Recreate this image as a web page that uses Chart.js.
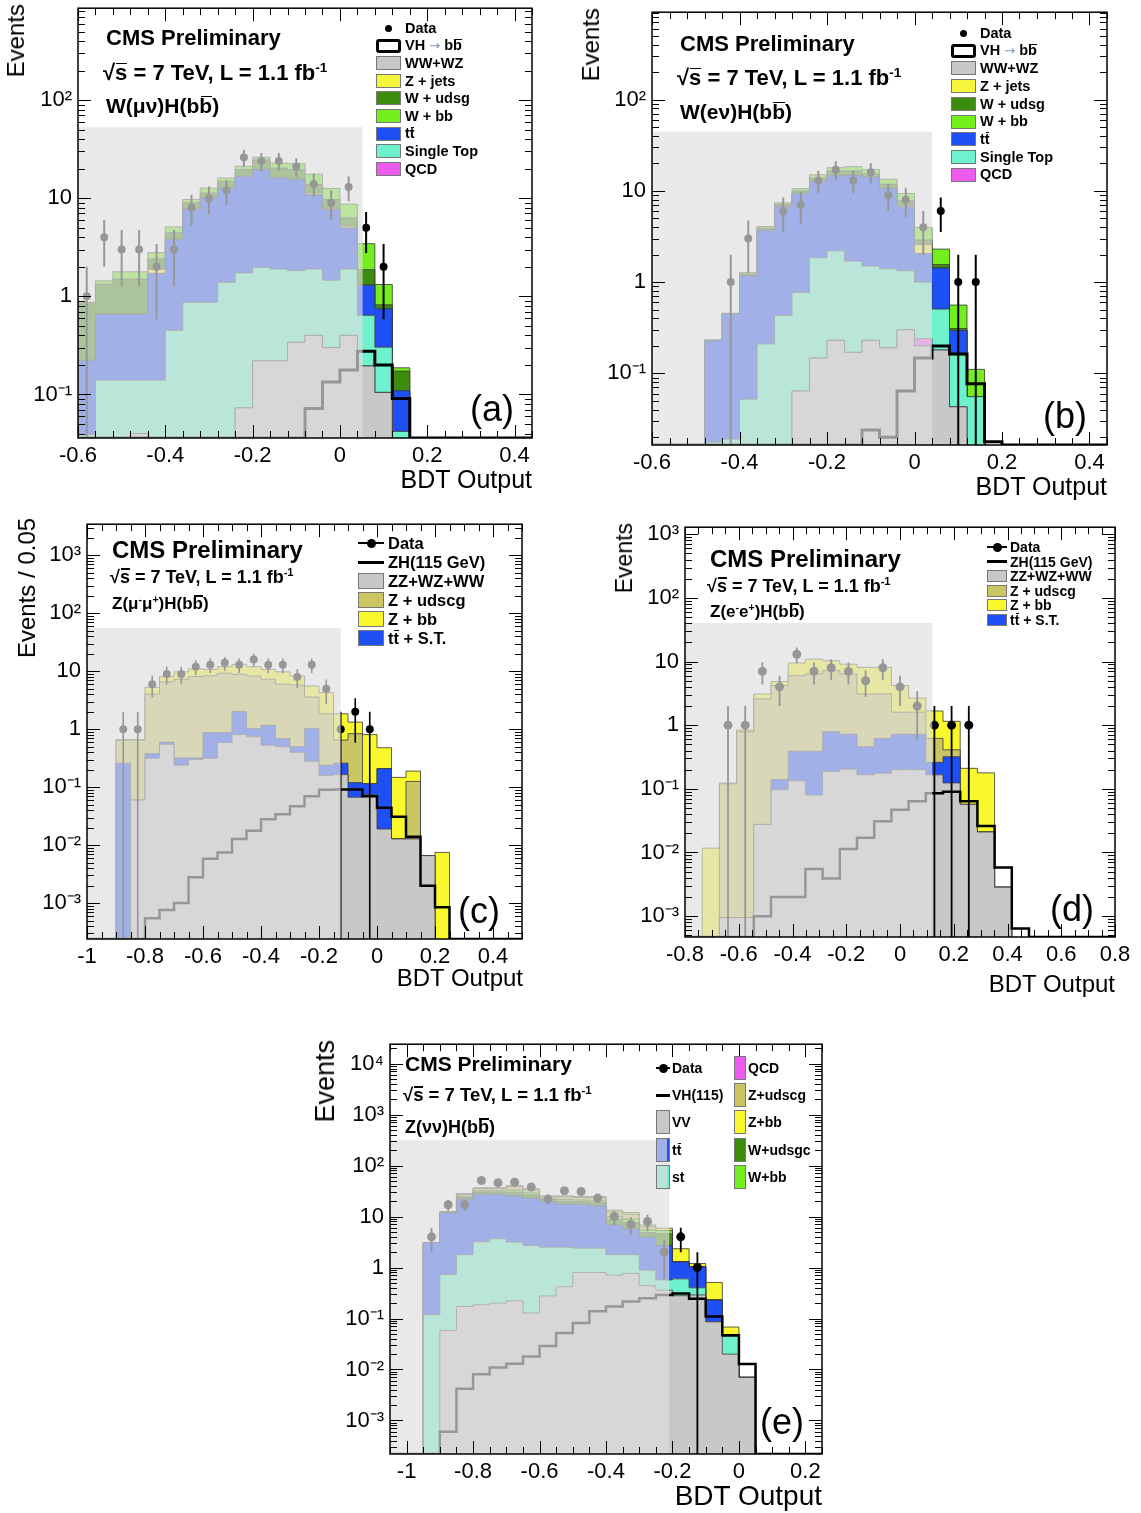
<!DOCTYPE html>
<html><head><meta charset="utf-8"><title>CMS VH(bb) BDT output</title>
<script src="https://cdn.jsdelivr.net/npm/chart.js@4.4.1/dist/chart.umd.min.js"></script>
<style>
html,body{margin:0;padding:0;background:#fff;}
body{position:relative;width:1141px;height:1513px;overflow:hidden;font-family:'Liberation Sans',Arial,Helvetica,sans-serif;color:#000;}
canvas{position:absolute;}
.t{position:absolute;white-space:nowrap;line-height:1;}
.b{font-weight:bold;}
.vt{position:absolute;white-space:nowrap;line-height:1;writing-mode:vertical-rl;transform:rotate(180deg);}
.ob{position:relative;display:inline-block;}
.ob::after{content:'';position:absolute;left:0.06em;right:0.02em;top:0.03em;height:0.075em;background:currentColor;}
sup{font-size:62%;vertical-align:0.6em;line-height:0;}
.sw{position:absolute;box-sizing:border-box;}
.ar{color:#7f97b8;font-weight:normal;font-family:'DejaVu Sans',sans-serif;font-size:0.9em;}
</style></head><body>
<canvas id="ca"></canvas><canvas id="cb"></canvas><canvas id="cc"></canvas><canvas id="cd"></canvas><canvas id="ce"></canvas>
<script>
// ================= DATA =================
// (a) W(mu nu)H(bb): bins of 0.04 starting at -0.6
const aBinLow = -0.6, aBinWidth = 0.04;
const aWWWZ      = [0, 0, 0, 0.04, 0, 0, 0, 0, 0, 0.073, 0.22, 0.22, 0.34, 0.40, 0.30, 0.40, 0.195, 0.105, 0];
const aQCD       = [0, 0, 0, 0, 0, 0, 0, 0, 0, 0, 0, 0, 0, 0, 0, 0, 0, 0, 0];
const aSingleTop = [0.039, 0.14, 0.14, 0.10, 0.14, 0.45, 0.87, 0.87, 1.39, 1.66, 1.75, 1.68, 1.49, 1.50, 1.16, 1.50, 0.445, 0.198, 0.042];
const aTTbar     = [0.184, 0.52, 0.52, 0.52, 1.58, 3.35, 6.83, 9.23, 11.2, 15.0, 17.5, 14.2, 13.7, 9.0, 6.24, 3.1, 0.66, 0.443, 0.067];
const aZjets     = [0, 0, 0, 0, 0.16, 0.05, 0.1, 0.1, 0.2, 0.2, 0.2, 0.2, 0.2, 0.4, 0.2, 0.2, 0, 0, 0];
const aWudsg     = [0.617, 0.67, 0.84, 0.84, 0.52, 0.6, 1.2, 1.1, 2.1, 2.6, 4.9, 4.0, 3.8, 2.5, 1.8, 1.1, 0.57, 0.074, 0.064];
const aWbb       = [0.03, 0.11, 0.28, 0.28, 0.39, 0.65, 0.7, 1.4, 1.2, 1.6, 1.6, 2.5, 3.0, 3.8, 2.9, 2.4, 1.57, 0.5, 0.014];
const aVH        = [0, 0, 0, 0, 0, 0, 0, 0, 0, 0, 0, 0, 0, 0.072, 0.134, 0.178, 0.276, 0.2, 0.091];
const aData      = [1, 4, 3, 3, 2, 3, 8, 10, 12, 26, 24, 24, 21, 14, 9, 13, 5, 2, null];
const aBlind     = [-0.6, 0.052, 53];   // x from, x to, height (events)

// (b) W(e nu)H(bb): bins of 0.04 starting at -0.6
const bBinLow = -0.6, bBinWidth = 0.04;
const bWWWZ      = [0, 0, 0, 0, 0, 0, 0, 0, 0.064, 0.147, 0.23, 0.17, 0.23, 0.19, 0.30, 0.20, 0.18, 0.043, 0, 0];
const bQCD       = [0, 0, 0, 0, 0, 0, 0, 0, 0, 0, 0, 0, 0, 0, 0, 0.04, 0, 0, 0, 0];
const bSingleTop = [0, 0, 0, 0.0176, 0.019, 0.052, 0.21, 0.43, 0.706, 1.70, 1.97, 1.53, 1.27, 1.21, 1.03, 0.76, 0.326, 0.117, 0.0556, 0];
const bTTbar     = [0, 0, 0, 0.212, 0.431, 1.118, 3.49, 6.27, 8.58, 10.75, 12.6, 13.1, 12.7, 9.2, 5.37, 1.06, 0.924, 0.135, 0, 0];
const bZjets     = [0, 0, 0, 0, 0, 0, 0, 0.05, 0.05, 0.1, 0.1, 0.1, 0.1, 0.1, 0.2, 0.52, 0, 0, 0, 0];
const bWudsg     = [0, 0, 0, 0, 0, 0.05, 0.2, 0.35, 0.6, 1.1, 1.6, 1.7, 1.1, 1.1, 0.9, 0.32, 0.13, 0.015, 0, 0];
const bWbb       = [0, 0, 0, 0.003, 0.005, 0.05, 0.17, 0.3, 0.6, 1.2, 1.4, 1.8, 1.7, 1.6, 1.55, 1.07, 0.74, 0.25, 0.055, 0];
const bVH        = [0, 0, 0, 0, 0, 0, 0, 0, 0, 0, 0, 0, 0.024, 0.02, 0.064, 0.147, 0.2, 0.163, 0.077, 0.0178];
const bData      = [null, null, null, null, 1, 3, null, 6, 7, 13, 17, 13, 16, 9, 8, 4, 6, 1, 1, null];
const bBlind     = [-0.6, 0.04, 44.5];

// (c) Z(mu mu)H(bb): bins of 0.05 starting at -0.9
const cBinLow = -0.9, cBinWidth = 0.05;
const cZZWZWW    = [0, 0.06, 0.316, 0.55, 0.24, 0.30, 0.316, 0.59, 0.81, 0.74, 0.53, 0.5, 0.4, 0.28, 0.16, 0.165, 0.067, 0.075, 0.019, 0.0128, 0.0128, 0.0066, 0];
const cTTST      = [0.26, 0, 0.064, 0.05, 0.08, 0.02, 0.564, 0.29, 1.22, 0.29, 0.64, 0.19, 0.1, 0.75, 0.08, 0.095, 0.053, 0.04, 0.191, 0, 0, 0, 0];
const cZudscg    = [0.39, 0.59, 3.68, 6.0, 6.98, 7.78, 7.52, 8.42, 6.87, 7.27, 6.13, 5.31, 5.3, 2.57, 1.61, 0.39, 0.72, 0, 0, 0, 0.113, 0, 0];
const cZbb       = [0.01, 0.01, 1.24, 1.5, 2.5, 3.0, 2.4, 2.7, 4.3, 3.7, 3.5, 3.8, 2.5, 2.0, 2.45, 1.2, 0.49, 0.695, 0.27, 0.135, 0.064, 0, 0.0075];
const cZH        = [0, 0, 0.00055, 0.00076, 0.001, 0.0028, 0.0058, 0.0075, 0.0128, 0.0177, 0.028, 0.034, 0.047, 0.07, 0.09, 0.091, 0.091, 0.07, 0.044, 0.031, 0.014, 0.002, 0.00085];
const cData      = [1, 1, 6, 9, 9, 12, 13, 14, 13, 16, 13, 13, 8, 13, 5, 1, 2, 1, null, null, null, null, null];
const cBlind     = [-1.0, -0.125, 55.7];

// (d) Z(ee)H(bb): bins of 0.064 starting at -0.8
const dBinLow = -0.8, dBinWidth = 0.064;
const dZZWZWW    = [0, 0, 0.00095, 0.00095, 0.0276, 0.097, 0.134, 0.08, 0.187, 0.204, 0.166, 0.176, 0.2, 0.2, 0.166, 0.124, 0.057, 0.021, 0.00285, 0];
const dTTST      = [0, 0, 0, 0, 0, 0.043, 0.256, 0.31, 0.603, 0.516, 0.294, 0.444, 0.52, 0.52, 0.094, 0.196, 0, 0, 0, 0];
const dZudscg    = [0, 0, 0.119, 0.789, 2.57, 4.06, 5.61, 6.01, 6.41, 5.68, 2.64, 2.48, 0.88, 0.88, 0.36, 0.09, 0, 0, 0, 0];
const dZbb       = [0, 0.0117, 0.003, 0.05, 0.5, 0.65, 3.5, 4.5, 3.1, 2.7, 5.0, 5.0, 2.6, 1.07, 1.05, 0.74, 0.153, 0.157, 0, 0];
const dZH        = [0, 0, 0, 0, 0.001, 0.002, 0.002, 0.0055, 0.0039, 0.0113, 0.0171, 0.031, 0.047, 0.064, 0.085, 0.09, 0.064, 0.026, 0.0058, 0.00064];
const dData      = [null, null, 1, 1, 7, 4, 13, 7, 8, 7, 5, 8, 4, 2, 1, 1, 1, null, null, null];
const dBlind     = [-0.8, 0.12, 40.4];

// (e) Z(nu nu)H(bb): bins of 0.05 starting at -0.95
const eBinLow = -0.95, eBinWidth = 0.05;
const eVV        = [0, 0.058, 0.172, 0.186, 0.2, 0.222, 0.128, 0.277, 0.42, 0.8, 0.8, 0.71, 0.765, 0.44, 0.36, 0.28, 0.29, 0.086, 0.02, 0.007];
const eST        = [0.119, 0.672, 1.618, 3.014, 3.46, 2.93, 2.57, 2.22, 2.08, 1.6, 1.6, 1.08, 1.025, 0.45, 0.21, 0.32, 0.11, 0, 0.025, 0];
const eTT        = [2.94, 11.27, 20.11, 24.1, 23.64, 22.25, 20.2, 17.2, 15.0, 15.1, 13.8, 5.01, 3.91, 3.05, 2.13, 0.69, 0.63, 0.144, 0, 0];
const eQCD       = [0, 0, 0, 0, 0, 0, 0, 0, 0, 0, 0, 0, 0, 0, 0, 0, 0, 0, 0, 0];
const eWudsgc    = [0, 0.12, 1.9, 2.9, 2.8, 4.6, 3.7, 1.7, 2.4, 2.2, 2.6, 2.0, 1.9, 0.9, 1.9, 0, 0, 0, 0, 0];
const eWbb       = [0, 0.08, 1.3, 1.9, 1.9, 3.1, 2.5, 1.1, 1.6, 1.4, 1.7, 1.3, 1.3, 0.6, 0.7, 0, 0, 0, 0, 0];
const eZudscg    = [0, 0.14, 2.2, 3.3, 3.4, 5.4, 4.3, 2.0, 2.8, 2.5, 3.0, 2.3, 2.2, 1.0, 0, 0, 0, 0, 0, 0];
const eZbb       = [0, 0.06, 0.9, 1.4, 1.4, 2.3, 1.8, 0.9, 1.1, 1.1, 1.2, 1.0, 0.9, 0.4, 0.6, 1.05, 0.17, 0.28, 0.023, 0];
const eVH        = [0, 0.0006, 0.0042, 0.0081, 0.011, 0.013, 0.018, 0.029, 0.052, 0.082, 0.138, 0.172, 0.215, 0.25, 0.29, 0.31, 0.245, 0.11, 0.047, 0.0128];
const eData      = [4, 17, 17, 51, 46, 47, 38, 22, 32, 31, 23, 10, 7, 8, 2, 4, 1, null, null, null];
const eBlind     = [-1.05, -0.21, 320];

// ================= STYLE =================
const COL = {ww:'#c8c8c8', st:'#6ef2cd', tt:'#1f50f5', zj:'#f5f53c', wudsg:'#3e8c0e', wbb:'#74ee1c',
             qcd:'#ee5cee', zud:'#c9c663', zbb:'#f8f82c'};
const FONT = "'Liberation Sans', Arial, Helvetica, sans-serif";
const YW = 70, PT = 15, PR = 30, XH = 45, TINY = 1e-9;
const SUP = {'-':'\u207B','0':'\u2070','1':'\u00B9','2':'\u00B2','3':'\u00B3','4':'\u2074','5':'\u2075','6':'\u2076','7':'\u2077','8':'\u2078','9':'\u2079'};

function logLabel(v) {
  const e = Math.log10(v), r = Math.round(e);
  if (Math.abs(e - r) > 1e-6) return '';
  if (r === 0) return '1';
  if (r === 1) return '10';
  return '10' + String(r).split('').map(c => SUP[c]).join('');
}
function linLabel(v) {
  const q = v / 0.2;
  if (Math.abs(q - Math.round(q)) > 1e-6) return '';
  return String(parseFloat(v.toFixed(2)));
}

function makeRootPlugin(p, pts) {
  return {
    id: 'root_' + p.id,
    afterDatasetsDraw(chart) {
      const ctx = chart.ctx, a = chart.chartArea, xs = chart.scales.x, ys = chart.scales.y;
      ctx.save();
      ctx.beginPath(); ctx.rect(a.left, a.top, a.right - a.left, a.bottom - a.top); ctx.clip();
      // Poisson error bars on data
      ctx.strokeStyle = '#000'; ctx.lineWidth = p.ebW;
      pts.forEach(q => {
        const e = Math.sqrt(q.y);
        const px = xs.getPixelForValue(q.x);
        const top = ys.getPixelForValue(q.y + e);
        const bot = (q.y - e) > 0 ? ys.getPixelForValue(q.y - e) : a.bottom + 5;
        ctx.beginPath(); ctx.moveTo(px, bot); ctx.lineTo(px, top); ctx.stroke();
      });
      // blinded region overlay
      const bx0 = xs.getPixelForValue(p.blind[0]), bx1 = xs.getPixelForValue(p.blind[1]);
      const by = ys.getPixelForValue(p.blind[2]);
      ctx.fillStyle = 'rgba(222,222,222,0.68)';
      ctx.fillRect(bx0, by, bx1 - bx0, a.bottom - by);
      ctx.restore();
      // ROOT-style frame with inward ticks
      ctx.save();
      ctx.strokeStyle = '#000'; ctx.lineWidth = 1;
      const L = a.left, R = a.right, T = a.top, B = a.bottom;
      ctx.beginPath();
      const e0 = Math.floor(Math.log10(ys.min)), e1 = Math.ceil(Math.log10(ys.max));
      for (let e = e0; e <= e1; e++) for (let m = 1; m < 10; m++) {
        const v = m * Math.pow(10, e);
        if (v < ys.min || v > ys.max) continue;
        const py = Math.round(ys.getPixelForValue(v)) + 0.5;
        const len = m === 1 ? 13 : 7;
        ctx.moveTo(L, py); ctx.lineTo(L + len, py);
        ctx.moveTo(R, py); ctx.lineTo(R - len, py);
      }
      const ns = Math.round((xs.max - xs.min) / p.minor);
      for (let i = 0; i <= ns; i++) {
        const v = xs.min + i * p.minor;
        const q = v / 0.2, major = Math.abs(q - Math.round(q)) < 1e-6;
        const px = Math.round(xs.getPixelForValue(v)) + 0.5;
        const len = major ? 13 : 7;
        ctx.moveTo(px, B); ctx.lineTo(px, B - len);
        ctx.moveTo(px, T); ctx.lineTo(px, T + len);
      }
      ctx.stroke();
      ctx.lineWidth = 1.5;
      ctx.strokeRect(L, T, R - L, B - T);
      ctx.restore();
    }
  };
}

function buildPanel(p) {
  const cv = document.getElementById(p.id);
  const {L, T, R, B} = p.frame;
  cv.width = YW + (R - L) + PR; cv.height = PT + (B - T) + XH;
  cv.style.left = (L - YW) + 'px'; cv.style.top = (T - PT) + 'px';
  const edge = k => p.lo + p.w * k;
  const n = p.stack[0].v.length;
  const datasets = [];
  let cum = new Array(n).fill(0);
  p.stack.forEach((s, i) => {
    cum = cum.map((c, k) => c + s.v[k]);
    const pts = [{x: edge(0), y: TINY}];
    cum.forEach((c, k) => pts.push({x: edge(k), y: c > 0 ? c : TINY}));
    pts.push({x: edge(n), y: TINY});
    datasets.push({data: pts, stepped: 'before', fill: i === 0 ? 'start' : '-1',
      backgroundColor: s.c, borderColor: 'rgba(55,55,55,0.8)', borderWidth: 1, pointRadius: 0, order: 1});
  });
  const sig = [{x: p.xMin, y: p.yMin}];
  p.signal.forEach((v, k) => sig.push({x: edge(k), y: v > 0 ? v : p.yMin}));
  sig.push({x: edge(p.signal.length), y: p.yMin});
  sig.push({x: p.xMax, y: p.yMin});
  datasets.push({data: sig, stepped: 'before', fill: false, borderColor: '#000', borderWidth: p.sigW, pointRadius: 0, order: 0});
  const pts = [];
  p.data.forEach((v, k) => { if (v !== null && v > 0) pts.push({x: edge(k) + p.w / 2, y: v}); });
  datasets.push({data: pts, showLine: false, pointRadius: p.r, pointBackgroundColor: '#000',
    pointBorderColor: '#000', pointBorderWidth: 0, order: -1});

  new Chart(cv, {
    type: 'line',
    data: {datasets},
    options: {
      responsive: false, animation: false, devicePixelRatio: 1, events: [],
      layout: {padding: {left: 0, top: PT, right: PR, bottom: 0}},
      plugins: {legend: {display: false}, tooltip: {enabled: false}, title: {display: false}},
      scales: {
        x: {type: 'linear', min: p.xMin, max: p.xMax,
            ticks: {stepSize: p.minor, autoSkip: false, maxRotation: 0, minRotation: 0, padding: 5,
                    color: '#000', font: {family: FONT, size: p.tfs}, callback: linLabel},
            grid: {display: false, drawTicks: false}, border: {display: false},
            afterFit: s => { s.height = XH; }},
        y: {type: 'logarithmic', min: p.yMin, max: p.yMax,
            ticks: {autoSkip: false, padding: 6, color: '#000', font: {family: FONT, size: p.tfs}, callback: logLabel},
            grid: {display: false, drawTicks: false}, border: {display: false},
            afterFit: s => { s.width = YW; }}
      }
    },
    plugins: [makeRootPlugin(p, pts)]
  });
}

buildPanel({id: 'ca', frame: {L: 78, T: 4, R: 532, B: 438}, xMin: -0.6, xMax: 0.44, yMin: 0.036, yMax: 864,
  minor: 0.04, lo: aBinLow, w: aBinWidth, tfs: 22, sigW: 3, r: 4, ebW: 2, blind: aBlind, signal: aVH, data: aData,
  stack: [{v: aWWWZ, c: COL.ww}, {v: aQCD, c: COL.qcd}, {v: aSingleTop, c: COL.st}, {v: aTTbar, c: COL.tt},
          {v: aZjets, c: COL.zj}, {v: aWudsg, c: COL.wudsg}, {v: aWbb, c: COL.wbb}]});
buildPanel({id: 'cb', frame: {L: 652, T: 8, R: 1107, B: 445}, xMin: -0.6, xMax: 0.44, yMin: 0.0164, yMax: 907,
  minor: 0.04, lo: bBinLow, w: bBinWidth, tfs: 22, sigW: 3, r: 4, ebW: 2, blind: bBlind, signal: bVH, data: bData,
  stack: [{v: bWWWZ, c: COL.ww}, {v: bQCD, c: COL.qcd}, {v: bSingleTop, c: COL.st}, {v: bTTbar, c: COL.tt},
          {v: bZjets, c: COL.zj}, {v: bWudsg, c: COL.wudsg}, {v: bWbb, c: COL.wbb}]});
buildPanel({id: 'cc', frame: {L: 87, T: 520, R: 522, B: 939}, xMin: -1.0, xMax: 0.5, yMin: 0.00024, yMax: 3460,
  minor: 0.05, lo: cBinLow, w: cBinWidth, tfs: 22, sigW: 2.5, r: 4, ebW: 1.6, blind: cBlind, signal: cZH, data: cData,
  stack: [{v: cZZWZWW, c: COL.ww}, {v: cTTST, c: COL.tt}, {v: cZudscg, c: COL.zud}, {v: cZbb, c: COL.zbb}]});
buildPanel({id: 'cd', frame: {L: 685, T: 523, R: 1115, B: 937}, xMin: -0.8, xMax: 0.8, yMin: 0.00047, yMax: 1290,
  minor: 0.05, lo: dBinLow, w: dBinWidth, tfs: 22, sigW: 2.5, r: 4.5, ebW: 1.8, blind: dBlind, signal: dZH, data: dData,
  stack: [{v: dZZWZWW, c: COL.ww}, {v: dTTST, c: COL.tt}, {v: dZudscg, c: COL.zud}, {v: dZbb, c: COL.zbb}]});
buildPanel({id: 'ce', frame: {L: 390, T: 1040, R: 822, B: 1454}, xMin: -1.05, xMax: 0.25, yMin: 0.00022, yMax: 24000,
  minor: 0.05, lo: eBinLow, w: eBinWidth, tfs: 22, sigW: 2.5, r: 4.5, ebW: 1.8, blind: eBlind, signal: eVH, data: eData,
  stack: [{v: eVV, c: COL.ww}, {v: eST, c: COL.st}, {v: eTT, c: COL.tt}, {v: eQCD, c: COL.qcd},
          {v: eWudsgc, c: COL.wudsg}, {v: eWbb, c: COL.wbb}, {v: eZudscg, c: COL.zud}, {v: eZbb, c: COL.zbb}]});

// ================= TEXT =================
function el(cls, css, html) {
  const d = document.createElement('div'); d.className = cls; Object.assign(d.style, css);
  if (html !== undefined) d.innerHTML = html; document.body.appendChild(d); return d;
}
function label(html, x, capTop, fs, bold) {
  return el('t' + (bold ? ' b' : ''), {left: x + 'px', top: (capTop - 0.13 * fs) + 'px', fontSize: fs + 'px'}, html);
}
function labelR(html, xr, capTop, fs) {
  return el('t', {left: (xr - 400) + 'px', width: '400px', textAlign: 'right', top: (capTop - 0.13 * fs) + 'px', fontSize: fs + 'px'}, html);
}
function vlabel(html, xl, top, fs) { return el('vt', {left: xl + 'px', top: top + 'px', fontSize: fs + 'px'}, html); }
function legend(rows, sx, sw, sh, tx, y0, dy, fs) {
  rows.forEach((r, i) => {
    const yc = y0 + i * dy, kind = r[0], color = r[1], text = r[2];
    if (kind === 'box') el('sw', {left: sx + 'px', top: (yc - sh / 2) + 'px', width: sw + 'px', height: sh + 'px', background: color, border: '1px solid #777'});
    else if (kind === 'sig') el('sw', {left: sx + 'px', top: (yc - sh / 2) + 'px', width: sw + 'px', height: sh + 'px', background: '#fff', border: '3px solid #000', borderRadius: '3px'});
    else if (kind === 'dot') el('sw', {left: (sx + sw / 2 - 3.5) + 'px', top: (yc - 3.5) + 'px', width: '7px', height: '7px', borderRadius: '50%', background: '#000'});
    else if (kind === 'dotline') {
      el('sw', {left: sx + 'px', top: (yc - 0.75) + 'px', width: sw + 'px', height: '1.5px', background: '#000'});
      el('sw', {left: (sx + sw / 2 - 4.5) + 'px', top: (yc - 4.5) + 'px', width: '9px', height: '9px', borderRadius: '50%', background: '#000'});
    } else if (kind === 'line') el('sw', {left: sx + 'px', top: (yc - 1.5) + 'px', width: sw + 'px', height: '3px', background: '#000'});
    el('t b', {left: tx + 'px', top: (yc - fs / 2) + 'px', fontSize: fs + 'px'}, text);
  });
}
const BB = 'b<span class="ob">b</span>', TT = 't<span class="ob">t</span>';
const ROOTS = '\u221A<span class="ob">s</span> = 7 TeV, L = 1.1 fb<sup>-1</sup>';

// (a)
vlabel('Events', 4, 4, 24);
label('CMS Preliminary', 106, 30, 22, true);
label(ROOTS, 103, 65, 22, true);
label('W(\u03BC\u03BD)H(' + BB + ')', 106, 98, 21, true);
legend([['dot', null, 'Data'], ['sig', null, 'VH <span class="ar">\u2192</span> ' + BB], ['box', COL.ww, 'WW+WZ'],
        ['box', COL.zj, 'Z + jets'], ['box', COL.wudsg, 'W + udsg'], ['box', COL.wbb, 'W + bb'],
        ['box', COL.tt, TT], ['box', COL.st, 'Single Top'], ['box', COL.qcd, 'QCD']], 376, 25, 14, 405, 28, 17.6, 14.5);
label('(a)', 470, 396, 36, false);
labelR('BDT Output', 532, 470, 25);

// (b)
vlabel('Events', 579, 8, 24);
label('CMS Preliminary', 680, 36, 22, true);
label(ROOTS, 677, 70, 22, true);
label('W(e\u03BD)H(' + BB + ')', 680, 104, 21, true);
legend([['dot', null, 'Data'], ['sig', null, 'VH <span class="ar">\u2192</span> ' + BB], ['box', COL.ww, 'WW+WZ'],
        ['box', COL.zj, 'Z + jets'], ['box', COL.wudsg, 'W + udsg'], ['box', COL.wbb, 'W + bb'],
        ['box', COL.tt, TT], ['box', COL.st, 'Single Top'], ['box', COL.qcd, 'QCD']], 951, 25, 14, 980, 33, 17.7, 14.5);
label('(b)', 1043, 403, 36, false);
labelR('BDT Output', 1107, 477, 25);

// (c)
vlabel('Events / 0.05', 15, 518, 24);
label('CMS Preliminary', 112, 541, 24, true);
label(ROOTS, 110, 570, 18, true);
label('Z(\u03BC<sup>-</sup>\u03BC<sup>+</sup>)H(' + BB + ')', 112, 597, 17, true);
legend([['dotline', null, 'Data'], ['line', null, 'ZH(115 GeV)'], ['box', COL.ww, 'ZZ+WZ+WW'],
        ['box', COL.zud, 'Z + udscg'], ['box', COL.zbb, 'Z + bb'], ['box', COL.tt, TT + ' + S.T.']], 358, 26, 16, 388, 543, 19, 16.5);
label('(c)', 458, 898, 36, false);
labelR('BDT Output', 523, 969, 24);

// (d)
vlabel('Events', 613, 523, 23);
label('CMS Preliminary', 710, 550, 24, true);
label(ROOTS, 707, 579, 18, true);
label('Z(e<sup>-</sup>e<sup>+</sup>)H(' + BB + ')', 710, 605, 17, true);
legend([['dotline', null, 'Data'], ['line', null, 'ZH(115 GeV)'], ['box', COL.ww, 'ZZ+WZ+WW'],
        ['box', COL.zud, 'Z + udscg'], ['box', COL.zbb, 'Z + bb'], ['box', COL.tt, TT + ' + S.T.']], 987, 20, 12, 1010, 547, 14.6, 14);
label('(d)', 1050, 896, 36, false);
labelR('BDT Output', 1115, 975, 24);

// (e)
vlabel('Events', 312, 1040, 27);
label('CMS Preliminary', 405, 1056, 21, true);
label(ROOTS, 403, 1088, 18.5, true);
label('Z(\u03BD\u03BD)H(' + BB + ')', 405, 1120, 18, true);
legend([['dotline', null, 'Data'], ['line', null, 'VH(115)'], ['box', COL.ww, 'VV'],
        ['box', 'linear-gradient(to right, #a1b0e5 84%, #1f50f5 84%)', TT],
        ['box', 'linear-gradient(to right, #bae4d9 84%, #6ef2cd 84%)', 'st']], 656, 14, 24, 672, 1068, 27.2, 14);
legend([['box', COL.qcd, 'QCD'], ['box', COL.zud, 'Z+udscg'], ['box', COL.zbb, 'Z+bb'],
        ['box', COL.wudsg, 'W+udsgc'], ['box', COL.wbb, 'W+bb']], 734, 12, 24, 748, 1068, 27.2, 14);
label('(e)', 760, 1409, 36, false);
labelR('BDT Output', 822, 1486, 28);
</script>
</body></html>
